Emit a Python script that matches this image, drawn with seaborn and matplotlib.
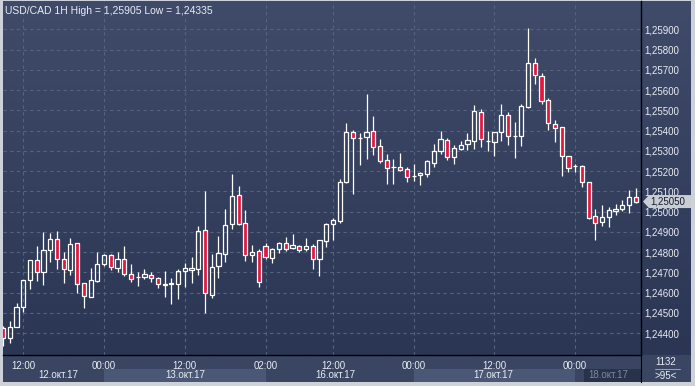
import numpy as np
import matplotlib
matplotlib.use('Agg')
import matplotlib.pyplot as plt
from matplotlib.patches import Polygon
from matplotlib.colors import LinearSegmentedColormap
import seaborn as sns

# Hourly USD/CAD candles, 12.10.17 09:00 -> 18.10.17 09:00 (weekend skipped)
open_ = [1.24424, 1.24375, 1.24432, 1.24528, 1.24661, 1.24760, 1.24704, 1.24813, 1.24864, 1.24765,
         1.24714, 1.24844, 1.24646, 1.24580, 1.24659, 1.24744, 1.24785, 1.24723, 1.24765, 1.24691,
         1.24676, 1.24676, 1.24685, 1.24671, 1.24637, 1.24641, 1.24641, 1.24706, 1.24714, 1.24716,
         1.24910, 1.24591, 1.24733, 1.24790, 1.24938, 1.25081, 1.24943, 1.24788, 1.24806, 1.24829,
         1.24770, 1.24814, 1.24844, 1.24822, 1.24829, 1.24814, 1.24829, 1.24765, 1.24857, 1.24938,
         1.24954, 1.25147, 1.25392, 1.25362, 1.25367, 1.25399, 1.25324, 1.25255, 1.25221, 1.25221,
         1.25209, 1.25175, 1.25180, 1.25185, 1.25242, 1.25298, 1.25353, 1.25269, 1.25311, 1.25333,
         1.25351, 1.25491, 1.25351, 1.25346, 1.25392, 1.25476, 1.25375, 1.25375, 1.25519, 1.25733,
         1.25669, 1.25550, 1.25432, 1.25417, 1.25274, 1.25224, 1.25224, 1.25145, 1.24977, 1.24948,
         1.24972, 1.25005, 1.25012, 1.25032, 1.25074]
high = [1.24436, 1.24460, 1.24547, 1.24665, 1.24762, 1.24831, 1.24902, 1.24896, 1.24905, 1.24799,
        1.24869, 1.24846, 1.24648, 1.24720, 1.24800, 1.24790, 1.24790, 1.24800, 1.24831, 1.24740,
        1.24702, 1.24717, 1.24701, 1.24676, 1.24707, 1.24675, 1.24718, 1.24745, 1.24775, 1.24929,
        1.25102, 1.24790, 1.24880, 1.25013, 1.25186, 1.25127, 1.25008, 1.24836, 1.24816, 1.24844,
        1.24822, 1.24852, 1.24875, 1.24890, 1.24834, 1.24870, 1.24840, 1.24860, 1.24943, 1.24969,
        1.25160, 1.25437, 1.25403, 1.25387, 1.25581, 1.25473, 1.25359, 1.25285, 1.25259, 1.25288,
        1.25221, 1.25236, 1.25198, 1.25257, 1.25334, 1.25400, 1.25362, 1.25328, 1.25348, 1.25390,
        1.25527, 1.25507, 1.25399, 1.25393, 1.25532, 1.25492, 1.25443, 1.25532, 1.25905, 1.25758,
        1.25683, 1.25560, 1.25451, 1.25420, 1.25274, 1.25234, 1.25231, 1.25145, 1.25012, 1.25033,
        1.25022, 1.25038, 1.25056, 1.25107, 1.25116]
low = [1.24335, 1.24350, 1.24431, 1.24506, 1.24616, 1.24658, 1.24638, 1.24753, 1.24716, 1.24646,
       1.24685, 1.24599, 1.24523, 1.24577, 1.24654, 1.24732, 1.24713, 1.24702, 1.24682, 1.24654,
       1.24635, 1.24668, 1.24655, 1.24621, 1.24580, 1.24546, 1.24569, 1.24626, 1.24649, 1.24687,
       1.24498, 1.24574, 1.24674, 1.24750, 1.24915, 1.24936, 1.24758, 1.24750, 1.24630, 1.24765,
       1.24748, 1.24798, 1.24807, 1.24817, 1.24800, 1.24804, 1.24716, 1.24684, 1.24827, 1.24860,
       1.24946, 1.25143, 1.25086, 1.25231, 1.25259, 1.25280, 1.25242, 1.25137, 1.25137, 1.25202,
       1.25148, 1.25152, 1.25133, 1.25170, 1.25219, 1.25283, 1.25254, 1.25236, 1.25303, 1.25306,
       1.25310, 1.25320, 1.25300, 1.25275, 1.25351, 1.25329, 1.25267, 1.25324, 1.25514, 1.25632,
       1.25533, 1.25405, 1.25346, 1.25178, 1.25198, 1.25198, 1.25123, 1.24964, 1.24862, 1.24928,
       1.24926, 1.24985, 1.25002, 1.24995, 1.25044]
close = [1.24375, 1.24429, 1.24531, 1.24663, 1.24760, 1.24701, 1.24809, 1.24864, 1.24765, 1.24716,
         1.24839, 1.24643, 1.24584, 1.24661, 1.24740, 1.24785, 1.24725, 1.24765, 1.24691, 1.24670,
         1.24676, 1.24691, 1.24671, 1.24641, 1.24641, 1.24646, 1.24707, 1.24720, 1.24720, 1.24905,
         1.24597, 1.24728, 1.24795, 1.24933, 1.25076, 1.24941, 1.24785, 1.24800, 1.24654, 1.24775,
         1.24814, 1.24844, 1.24817, 1.24834, 1.24812, 1.24829, 1.24765, 1.24859, 1.24938, 1.24958,
         1.25145, 1.25392, 1.25362, 1.25362, 1.25392, 1.25321, 1.25252, 1.25217, 1.25221, 1.25207,
         1.25170, 1.25175, 1.25191, 1.25249, 1.25298, 1.25358, 1.25269, 1.25315, 1.25331, 1.25353,
         1.25497, 1.25358, 1.25351, 1.25392, 1.25476, 1.25372, 1.25375, 1.25520, 1.25733, 1.25674,
         1.25545, 1.25437, 1.25412, 1.25274, 1.25214, 1.25224, 1.25145, 1.24969, 1.24943, 1.24972,
         1.25007, 1.25015, 1.25032, 1.25074, 1.25050]

time_ticks = [3, 15, 27, 39, 49, 61, 73, 85]
time_labels = ['12:00', '00:00', '12:00', '02:00', '12:00', '00:00', '12:00', '00:00']
day_labels = ['12.окт.17', '13.окт.17', '16.окт.17', '17.окт.17', '18.окт.17']
price_ticks = [1.244, 1.245, 1.246, 1.247, 1.248, 1.249, 1.250, 1.251,
               1.252, 1.253, 1.254, 1.255, 1.256, 1.257, 1.258, 1.259]
last_price = 1.25050
bar_count = 1132
visible_bars = 95

# layout (pixels of the 695x386 window)
W, H = 695, 386
day_pos = [8.2, 27, 49.3, 72.9, 89.9]
light_bands = [(15, 39), (61, 85)]
dark_band = (86.3, 95)
XLIM = (-0.015, 94.78)
YLIM = (1.242923, 1.260405)

RED = '#e3173e'
TXT = '#e8ecf4'
GRID = '#56637f'

sns.set_style('dark')
plt.rcParams['font.family'] = ['Liberation Sans', 'DejaVu Sans']


def fx(px):
    return px / W


def fy(py):
    return 1 - py / H


fig = plt.figure(figsize=(W / 100, H / 100), dpi=100)
fig.patch.set_facecolor('#cdd1d9')

# gradient background for chart + price scale
bg = fig.add_axes([fx(3), fy(355), fx(688), 354 / H])
grad = np.linspace(0, 1, 256).reshape(-1, 1)
cmap = LinearSegmentedColormap.from_list('bg', ['#3f4b69', '#2b3655'])
bg.imshow(grad, aspect='auto', cmap=cmap, extent=[0, 1, 0, 1], origin='upper')
bg.set_axis_off()

# time scale panel
bp = fig.add_axes([fx(3), fy(382), fx(638), 27 / H])
bp.set_facecolor('#3a4562')
for a, b in light_bands:
    bp.axvspan(a, b, ymin=0, ymax=0.48, color='#4b5875', lw=0)
bp.axvspan(dark_band[0], dark_band[1], ymin=0, ymax=0.48, color='#29324b', lw=0)
for pos, lab in zip(day_pos, day_labels):
    col = '#7d879d' if lab.startswith('18') else TXT
    bp.text(pos, 0.25, lab, ha='center', va='center', fontsize=7, color=col)
bp.set_xlim(XLIM)
bp.set_ylim(0, 1)
bp.set_xticks([])
bp.set_yticks([])
for s in bp.spines.values():
    s.set_visible(False)

# corner box
rb = fig.add_axes([fx(641), fy(382), fx(50), 27 / H])
rb.set_facecolor('#3a4562')
rb.set_xticks([])
rb.set_yticks([])
for s in rb.spines.values():
    s.set_visible(False)
rb.spines['left'].set_visible(True)
rb.spines['left'].set_color('black')
rb.text(0.5, 0.73, str(bar_count), ha='center', va='center', fontsize=7, color=TXT)
rb.text(0.5, 0.24, '>' + str(visible_bars) + '<', ha='center', va='center', fontsize=7, color=TXT)
rb.plot([0.28, 0.78], [0.48, 0.48], color='#9aa3b6', lw=0.7)
rb.set_xlim(0, 1)
rb.set_ylim(0, 1)

# main chart
ax = fig.add_axes([fx(3), fy(355), fx(638), 354 / H])
ax.patch.set_visible(False)

idx = np.arange(len(open_))
o = np.array(open_)
c = np.array(close)
hi = np.array(high)
lo = np.array(low)
top = np.maximum(o, c)
bot = np.minimum(o, c)
face = [RED if cc < oo else 'none' for oo, cc in zip(o, c)]

# wicks
ax.vlines(idx, top, hi, color='white', lw=0.9, zorder=2)
ax.vlines(idx, lo, bot, color='white', lw=0.9, zorder=2)

# bodies
sns.barplot(x=idx, y=top - bot, bottom=bot, native_scale=True, orient='x',
            width=0.62, color='white', facecolor=face, edgecolor='white',
            linewidth=0.9, errorbar=None, ax=ax, zorder=3)

ax.set_xlim(XLIM)
ax.set_ylim(YLIM)
ax.set_xlabel('')
ax.set_ylabel('')

ax.set_yticks(price_ticks)
ax.set_yticklabels([f'{t:.5f}'.replace('.', ',') for t in price_ticks])
ax.yaxis.tick_right()
ax.set_xticks(time_ticks)
ax.set_xticklabels(time_labels)
ax.tick_params(axis='y', length=0, pad=2.5, labelsize=7, labelcolor=TXT)
ax.tick_params(axis='x', length=0, pad=4, labelsize=7, labelcolor=TXT)
ax.grid(True, color=GRID, linestyle=(0, (3, 3)), linewidth=0.8)
ax.set_axisbelow(True)
for s in ['left', 'top']:
    ax.spines[s].set_visible(False)
for s in ['right', 'bottom']:
    ax.spines[s].set_visible(True)
    ax.spines[s].set_color('black')
    ax.spines[s].set_linewidth(1.0)

# title
fig.text(fx(5), fy(11), 'USD/CAD 1H High = 1,25905 Low = 1,24335',
         fontsize=7.5, color=TXT, va='center', ha='left')

# last price marker
ym = 211.7 - (last_price - 1.25) * 20250
pts = [(643, ym), (649, ym - 6.5), (691, ym - 6.5), (691, ym + 6.5), (649, ym + 6.5)]
fig.patches.append(Polygon([(fx(px), fy(py)) for px, py in pts], closed=True,
                           transform=fig.transFigure, facecolor='#c9cdd4',
                           edgecolor='none', zorder=5))
fig.text(fx(650), fy(ym), f'{last_price:.5f}'.replace('.', ','), fontsize=7,
         color='#141b2b', va='center', ha='left', zorder=6)

fig.savefig('out.png', dpi=100)
